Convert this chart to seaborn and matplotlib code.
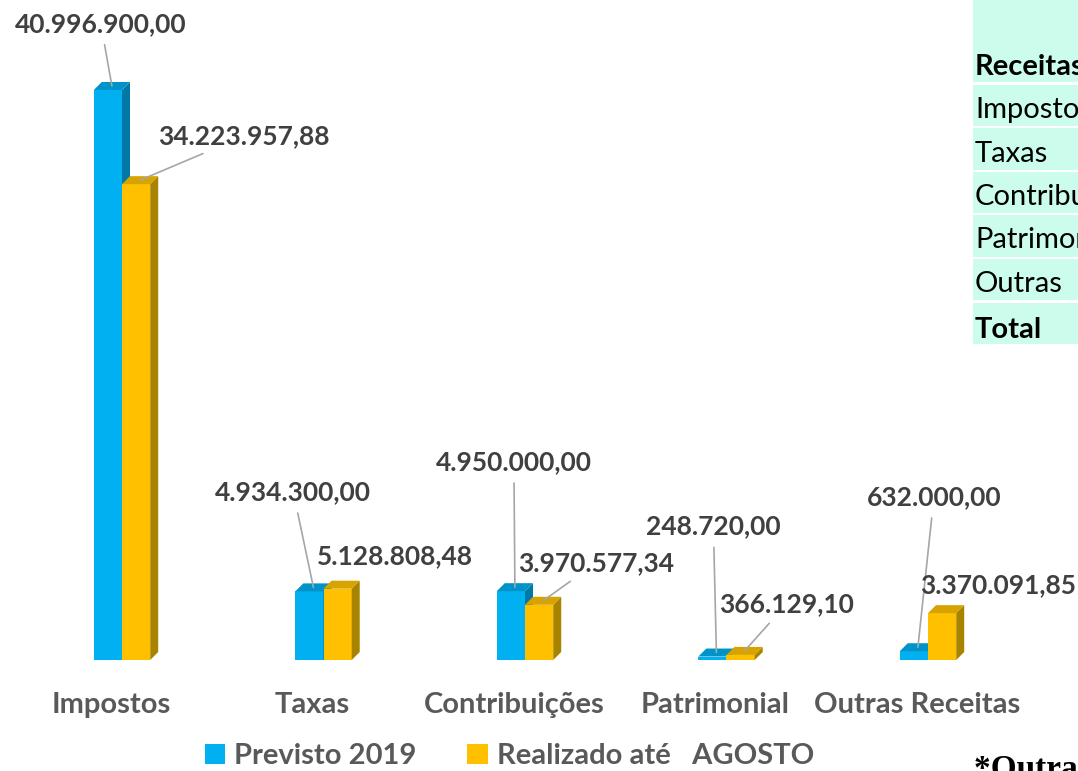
import pandas as pd
import matplotlib.pyplot as plt
import seaborn as sns
from matplotlib.patches import Polygon, Rectangle
from matplotlib.transforms import ScaledTranslation

categorias = ['Impostos', 'Taxas', 'Contribuições', 'Patrimonial', 'Outras Receitas']
series = ['Previsto 2019', 'Realizado até   AGOSTO']
previsto = [40996900.00, 4934300.00, 4950000.00, 248720.00, 632000.00]
realizado = [34223957.88, 5128808.48, 3970577.34, 366129.10, 3370091.85]
rotulos_previsto = ['40.996.900,00', '4.934.300,00', '4.950.000,00', '248.720,00', '632.000,00']
rotulos_realizado = ['34.223.957,88', '5.128.808,48', '3.970.577,34', '366.129,10', '3.370.091,85']
tabela_linhas = ['Impostos', 'Taxas', 'Contribuições', 'Patrimonial', 'Outras']

df = pd.DataFrame({
    'categoria': categorias * 2,
    'serie': [series[0]] * 5 + [series[1]] * 5,
    'valor': previsto + realizado,
})

sns.set_theme(style='white')
plt.rcParams['font.family'] = ['Lato', 'DejaVu Sans']

W, H = 1078, 771
fig = plt.figure(figsize=(W / 100, H / 100), dpi=100)

# layout in pixels
base_px = 660           # baseline (from top)
top_px = 20
x0_px, step_px = 122, 201.5
val_per_px = 40996900 / 570

ax = fig.add_axes([0, (H - base_px) / H, 1, (base_px - top_px) / H])
cores = ['#00b0f0', '#ffc000']
lados = ['#0079a6', '#a88300']
topos = ['#0093c9', '#d6a300']

sns.barplot(data=df, x='categoria', y='valor', hue='serie', hue_order=series,
            palette=cores, width=0.28, gap=0, saturation=1, linewidth=0,
            errorbar=None, ax=ax)
handles, labels = ax.get_legend_handles_labels()
ax.get_legend().remove()

ax.set_xlim(-x0_px / step_px, (W - x0_px) / step_px)
ax.set_ylim(0, (base_px - top_px) * val_per_px)

# pseudo 3D faces
dx = 8 / step_px
dy = 8 * val_per_px
for k, p in enumerate(ax.patches[:10]):
    j = k // 5
    z = 2 + j
    p.set_zorder(z)
    x1 = p.get_x() + p.get_width()
    xl = p.get_x()
    h = p.get_height()
    ax.add_patch(Polygon([(x1, 0), (x1, h), (x1 + dx, h + dy), (x1 + dx, dy)],
                         closed=True, color=lados[j], lw=0, zorder=z + 0.1))
    ax.add_patch(Polygon([(xl, h), (x1, h), (x1 + dx, h + dy), (xl + dx, h + dy)],
                         closed=True, color=topos[j], lw=0, zorder=z + 0.1))

# value labels: (offset x, offset y, leader line) in pixels
offs_prev = [(-11, 62, True), (-20, 95, True), (-1, 125, True), (-3, 126, True), (16, 150, True)]
offs_real = [(104, 44, True), (53, 29, False), (53, 38, True), (42, 47, True), (52, 24, False)]
for i in range(5):
    for j, (vals, rots, offs) in enumerate([(previsto, rotulos_previsto, offs_prev),
                                            (realizado, rotulos_realizado, offs_real)]):
        xb = i - 0.07 + 0.14 * j
        ox, oy, linha = offs[i]
        ap = dict(arrowstyle='-', color='#a6a6a6', lw=1.2, shrinkA=4, shrinkB=0) if linha else None
        ax.annotate(rots[i], xy=(xb + dx / 2, vals[i] + dy / 2), xytext=(ox, oy),
                    textcoords='offset pixels', ha='center', va='center',
                    fontsize=19, fontweight='bold', color='#404040',
                    arrowprops=ap, zorder=6)

ax.set_xlabel('')
ax.set_ylabel('')
ax.set_yticks([])
ax.tick_params(axis='x', length=0, pad=23, labelsize=21, labelcolor='#595959')
desloc = ScaledTranslation(-11 / 100, 0, fig.dpi_scale_trans)
for t in ax.get_xticklabels():
    t.set_fontweight('bold')
    t.set_transform(t.get_transform() + desloc)
sns.despine(ax=ax, left=True, bottom=True)

fig.legend(handles, labels, loc='center', bbox_to_anchor=(0.4725, 15 / H), ncol=2,
           frameon=False, handlelength=0.7, handleheight=0.7, handletextpad=0.3,
           columnspacing=1.75, prop={'size': 21, 'weight': 'bold'}, labelcolor='#595959')

# table at right (cut off in the original)
menta = '#ccfcec'
linhas_px = [(0, 82)] + [(85 + 43.5 * r, 85 + 43.5 * r + 41) for r in range(6)]
for (a, b) in linhas_px:
    fig.add_artist(Rectangle((973 / W, (H - b) / H), (W - 973) / W, (b - a) / H,
                             transform=fig.transFigure, color=menta, lw=0, zorder=1))
fig.text(975 / W, (H - 67) / H, 'Receitas', fontsize=21, fontweight='bold', va='center', ha='left', color='black')
for r, nome in enumerate(tabela_linhas):
    yc = 85 + 43.5 * r + 25
    fig.text(975 / W, (H - yc) / H, nome, fontsize=21, va='center', ha='left', color='black')
fig.text(975 / W, (H - 330) / H, 'Total', fontsize=21, fontweight='bold', va='center', ha='left', color='black')
fig.text(974 / W, (H - 778) / H, '*Outras Receitas', fontsize=24, fontweight='bold',
         family=['Liberation Serif', 'DejaVu Serif'], va='baseline', ha='left', color='black')

fig.savefig('out.png', dpi=100)
